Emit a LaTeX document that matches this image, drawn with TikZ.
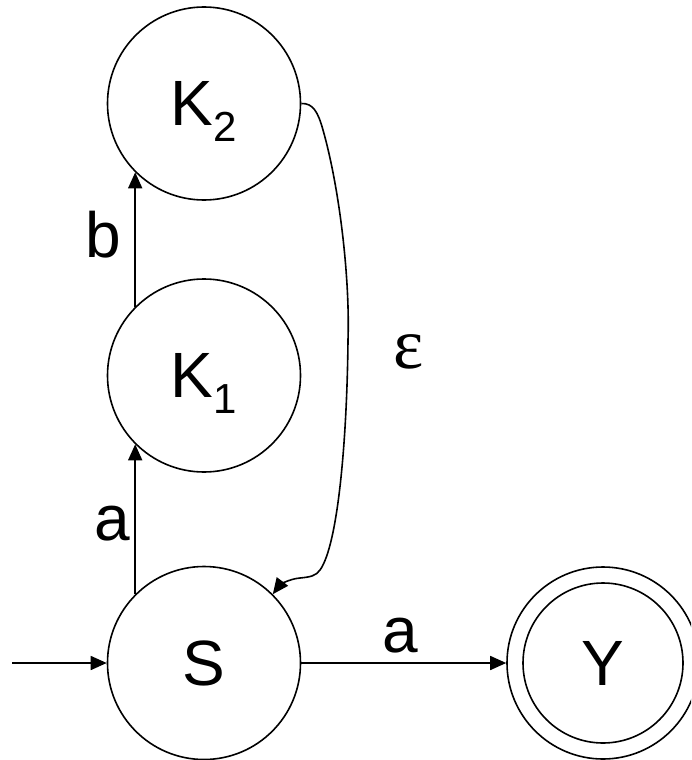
\documentclass[tikz,border=0pt]{standalone}
\usepackage{fontspec}
\setmainfont{Liberation Sans}
\newfontfamily\greekserif{Liberation Serif}
\usetikzlibrary{arrows.meta}
\newcommand{\subidx}[1]{\smash{\raisebox{-16pt}{\fontsize{42}{42}\selectfont #1}}}
\tikzset{
  state/.style={draw, circle, line width=1.6pt, minimum size=193pt, inner sep=0pt,
                font=\fontsize{64}{64}\selectfont},
  trans/.style={line width=1.6pt, -{Triangle[length=16pt, width=14pt]}},
  lbl/.style={anchor=base, inner sep=0pt, font=\fontsize{64}{64}\selectfont}
}
\begin{document}
\begin{tikzpicture}[x=1pt, y=-1pt]
  \useasboundingbox (0,0) rectangle (691,760);
  \clip (0,0) rectangle (691,760);

  % states
  \node[state] (K2) at (204,103.5) {K\subidx{2}};
  \node[state] (K1) at (204,375.5) {K\subidx{1}};
  \node[state] (S)  at (204,663) {S};
  \node[state, minimum size=192pt] (Y) at (603,663) {Y};
  \draw[line width=1.6pt] (Y.center) circle[radius=80pt];

  % start arrow
  \coordinate (start) at (12,663);
  \draw[trans] (start) -- (S.west);

  % transitions
  \draw[trans] (S.135) -- (K1.225);
  \draw[trans] (K1.135) -- (K2.225);
  \draw[trans] (S.east) -- (Y.west);
  \draw[trans] (K2.east) .. controls (313,103) and (318,112) .. (323,130)
        .. controls (340,190) and (350,280) .. (348,340)
        .. controls (347,440) and (338,545) .. (320,570)
        .. controls (316,576) and (310,577) .. (300,578)
        .. controls (288,579) and (279,586) .. (S.45);

  % transition labels
  \node[lbl] (lb) at (103,257) {b};
  \node[lbl] (la1) at (112,540) {a};
  \node[lbl] (la2) at (400,652) {a};
  \node[lbl, font=\fontsize{72}{72}\selectfont\greekserif] (leps) at (409,368) {ε};
\end{tikzpicture}
\end{document}
